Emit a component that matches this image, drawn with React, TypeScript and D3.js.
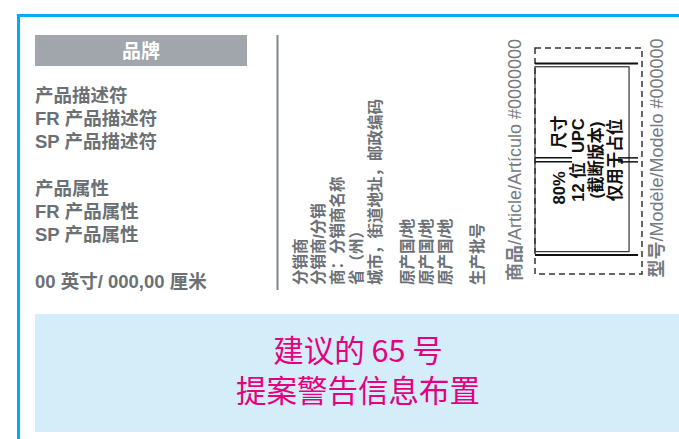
import * as d3 from "d3";

const brand = "品牌";
const leftLines = [
  "产品描述符",
  "FR 产品描述符",
  "SP 产品描述符",
  "",
  "产品属性",
  "FR 产品属性",
  "SP 产品属性",
  "",
  "00 英寸/ 000,00 厘米",
];
const vendorGroups = [
  ["分销商", "分销商/分销", "商：分销商名称", "省（州）", "城市，街道地址，邮政编码"],
  ["原产国/地", "原产国/地", "原产国/地"],
  ["生产批号"],
];
const articleLabel = "商品/Article/Artículo #0000000";
const modelLabel = "型号/Modèle/Modelo #000000";
const upcLines = ["80%     尺寸", "12 位  UPC", "(截断版本)", "仅用于占位"];
const warningLines = ["建议的 65 号", "提案警告信息布置"];

const W = 679;
const H = 439;
const FONT = '"Liberation Sans", Arial, "Noto Sans CJK SC", sans-serif';
const GREY = "#6b7075";

function SideLabel({ label, x, y }: { label: string; x: number; y: number }) {
  const cut = label.indexOf("/");
  return (
    <text transform={`translate(${x}, ${y}) rotate(-90)`} dy="0.36em" textAnchor="middle" fill="#767b80" fontSize={18}>
      <tspan fontWeight={700}>{label.slice(0, cut)}</tspan>
      <tspan>{label.slice(cut)}</tspan>
    </text>
  );
}

export default function App() {
  const rowY = d3.scaleLinear().domain([0, leftLines.length - 1]).range([95, 281]);

  // vertical vendor columns: line step + paragraph gap
  const step = 18.8;
  const gap = 13.5;
  const vendorCols: { text: string; x: number }[] = [];
  let cx = 300;
  vendorGroups.forEach((g, gi) => {
    g.forEach((t, i) => {
      vendorCols.push({ text: t, x: cx });
      if (i < g.length - 1) cx += step;
    });
    if (gi < vendorGroups.length - 1) cx += step + gap;
  });

  // barcode frame in percent of its box
  const bx = d3.scaleLinear().domain([0, 100]).range([535, 642]);
  const by = d3.scaleLinear().domain([0, 100]).range([48, 274]);
  const upcX = d3.scaleLinear().domain([0, upcLines.length - 1]).range([559, 615]);
  const midY = by(49.5);

  const warnY = d3.scaleLinear().domain([0, warningLines.length - 1]).range([351, 391]);

  return (
    <div style={{ position: "absolute", left: 0, top: 0 }}>
      <svg width={W} height={H} viewBox={`0 0 ${W} ${H}`} style={{ display: "block", fontFamily: FONT }}>
        <rect width={W} height={H} fill="#ffffff" />
        {/* blue frame */}
        <line x1={17} x2={W} y1={15.5} y2={15.5} stroke="#00aeef" strokeWidth={3} />
        <line x1={18.5} x2={18.5} y1={14} y2={H} stroke="#00aeef" strokeWidth={3} />

        {/* brand header */}
        <rect x={35} y={35} width={212} height={31} fill="#a0a6ab" />
        <text x={141} y={51} dy="0.36em" textAnchor="middle" fill="#ffffff" fontSize={19} fontWeight={700}>
          {brand}
        </text>

        {leftLines.map((t, i) =>
          t ? (
            <text key={i} x={35} y={rowY(i)} dy="0.36em" fill={GREY} fontSize={18.5} fontWeight={700}>
              {t}
            </text>
          ) : null
        )}

        <line x1={277.5} x2={277.5} y1={35} y2={290} stroke="#7f8488" strokeWidth={2} />

        {vendorCols.map((c, i) => (
          <text
            key={i}
            transform={`translate(${c.x}, 285) rotate(-90)`}
            dy="0.36em"
            fill={GREY}
            fontSize={15.5}
            fontWeight={700}
          >
            {c.text}
          </text>
        ))}

        {/* article / model labels */}
        <SideLabel label={articleLabel} x={515} y={160} />
        <SideLabel label={modelLabel} x={657} y={158} />

        {/* barcode placeholder */}
        <rect
          x={bx(0)}
          y={by(0)}
          width={bx(100) - bx(0)}
          height={by(100) - by(0)}
          fill="none"
          stroke="#333"
          strokeWidth={1.5}
          strokeDasharray="6 4"
        />
        <rect
          x={bx(0)}
          y={by(8.3)}
          width={bx(87.9) - bx(0)}
          height={by(90.1) - by(8.3)}
          fill="none"
          stroke="#333"
          strokeWidth={1.2}
        />
        {[6.9, 91.6].map((p) => (
          <line key={p} x1={bx(0)} x2={bx(96.3)} y1={by(p)} y2={by(p)} stroke="#111" strokeWidth={2} />
        ))}
        {[-2, 2].map((o) => (
          <g key={o}>
            <line x1={bx(0)} x2={bx(34.6)} y1={midY + o} y2={midY + o} stroke="#111" strokeWidth={1.5} />
            <line x1={bx(77.6)} x2={bx(96.3)} y1={midY + o} y2={midY + o} stroke="#111" strokeWidth={1.5} />
          </g>
        ))}
        {upcLines.map((t, i) => (
          <text
            key={i}
            transform={`translate(${upcX(i)}, 160) rotate(-90)`}
            dy="0.36em"
            textAnchor="middle"
            fill="#111"
            fontSize={16.5}
            fontWeight={700}
            style={{ whiteSpace: "pre" }}
          >
            {t}
          </text>
        ))}

        {/* warning area */}
        <rect x={35} y={314} width={W - 35} height={118} fill="#d4edf9" />
        {warningLines.map((t, i) => (
          <text
            key={i}
            x={358}
            y={warnY(i)}
            dy="0.36em"
            textAnchor="middle"
            fill="#e4007f"
            fontSize={30.5}
            fontFamily='"Noto Sans CJK SC", sans-serif'
          >
            {t}
          </text>
        ))}
      </svg>
    </div>
  );
}
